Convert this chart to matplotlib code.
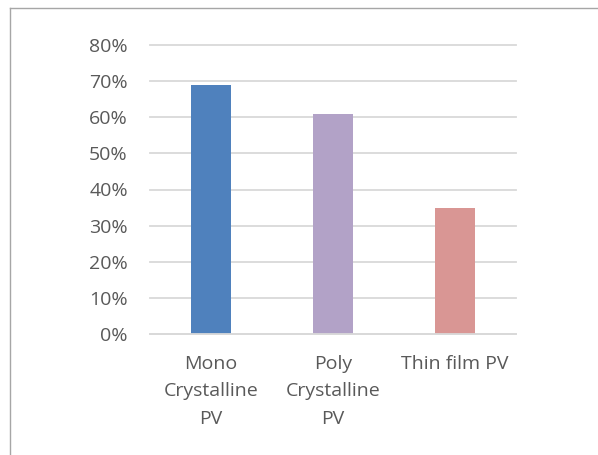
import matplotlib
matplotlib.use("Agg")
import matplotlib.pyplot as plt
from matplotlib.lines import Line2D
from matplotlib.ticker import PercentFormatter

categories = ["Mono\nCrystalline\nPV", "Poly\nCrystalline\nPV", "Thin film PV"]
values = [0.69, 0.61, 0.35]
colors = ["#4F81BD", "#B2A2C7", "#D99694"]
yticks = [0, 0.1, 0.2, 0.3, 0.4, 0.5, 0.6, 0.7, 0.8]

plt.rcParams["font.family"] = ["Open Sans", "DejaVu Sans"]
text_color = "#595959"

fig = plt.figure(figsize=(5.98, 4.55), dpi=100)
ax = fig.add_axes([150 / 598, 1 - 334 / 455, 366 / 598, (334 - 45) / 455])

x = range(len(categories))
ax.bar(x, values, width=0.32, color=colors, zorder=3)

ax.set_xlim(-0.5, len(categories) - 0.5)
ax.set_ylim(0, 0.8)
ax.set_yticks(yticks)
ax.yaxis.set_major_formatter(PercentFormatter(1.0, decimals=0))
ax.set_xticks(list(x))
ax.set_xticklabels(categories, linespacing=1.67)

ax.grid(axis="y", color="#D9D9D9", linewidth=1.3, zorder=0)
for gl in ax.yaxis.get_gridlines():
    gl.set_clip_on(False)
for side in ["top", "right", "left"]:
    ax.spines[side].set_visible(False)
ax.spines["bottom"].set_color("#D9D9D9")
ax.spines["bottom"].set_linewidth(1.3)
ax.spines["bottom"].set_zorder(4)

ax.tick_params(axis="both", length=0, colors=text_color, labelsize=14)
ax.tick_params(axis="y", pad=16)
ax.tick_params(axis="x", pad=15)

# chart-area frame (left and top edges)
fig.add_artist(Line2D([10 / 598, 10 / 598], [0, 1 - 8 / 455],
                      transform=fig.transFigure, color="#A6A6A6", linewidth=1.0))
fig.add_artist(Line2D([10 / 598, 1], [1 - 8 / 455, 1 - 8 / 455],
                      transform=fig.transFigure, color="#A6A6A6", linewidth=1.0))

fig.savefig("out.png", dpi=100)
